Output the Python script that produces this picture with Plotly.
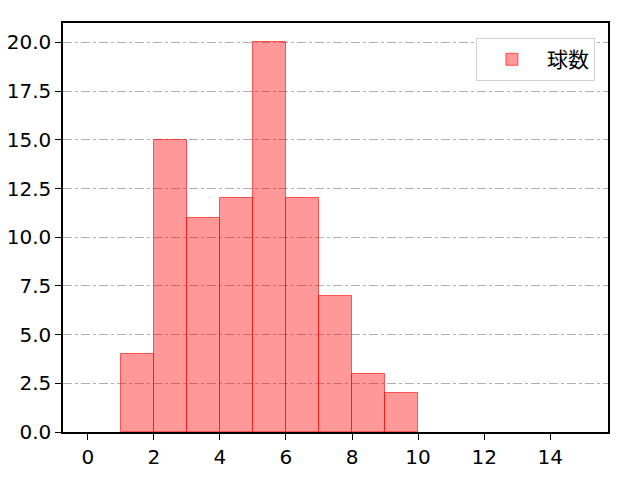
import plotly.graph_objects as go

# histogram bins (left edges) and counts
bin_left = [1, 2, 3, 4, 5, 6, 7, 8, 9]
counts = [4, 15, 11, 12, 20, 12, 7, 3, 2]
series_name = "球数"

x_ticks = [0, 2, 4, 6, 8, 10, 12, 14]
y_ticks = [0.0, 2.5, 5.0, 7.5, 10.0, 12.5, 15.0, 17.5, 20.0]

fig = go.Figure()
fig.add_trace(go.Bar(
    x=[b + 0.5 for b in bin_left],
    y=counts,
    width=1,
    name=series_name,
    marker=dict(color="rgba(255,0,0,0.4)",
                line=dict(color="rgba(255,0,0,0.6)", width=1)),
    showlegend=True,
))

# page body adds 8px offset, so margins are shifted to compensate
fig.update_layout(
    width=640, height=480,
    margin=dict(l=55, r=40, t=15, b=56, autoexpand=False),
    paper_bgcolor="white", plot_bgcolor="white",
    font=dict(family="DejaVu Sans", size=20, color="black"),
    bargap=0,
    legend=dict(x=0.976, y=0.963, xanchor="right", yanchor="top",
                bgcolor="white", bordercolor="#d0d0d0", borderwidth=1,
                itemwidth=60, font=dict(size=21, family="Noto Sans CJK JP")),
)
fig.update_xaxes(range=[-0.75, 15.75], tickvals=x_ticks, automargin=False,
                 ticks="outside", ticklen=6, tickcolor="black",
                 showline=True, linecolor="black", linewidth=1.5, mirror=True,
                 showgrid=False, zeroline=False)
fig.update_yaxes(range=[0, 21], tickvals=y_ticks, tickformat=".1f", automargin=False,
                 ticks="outside", ticklen=6, tickcolor="black",
                 showline=True, linecolor="black", linewidth=1.5, mirror=True,
                 showgrid=True, gridcolor="#b0b0b0", griddash="dashdot", gridwidth=1,
                 zeroline=False)

fig.write_html("out.html")
